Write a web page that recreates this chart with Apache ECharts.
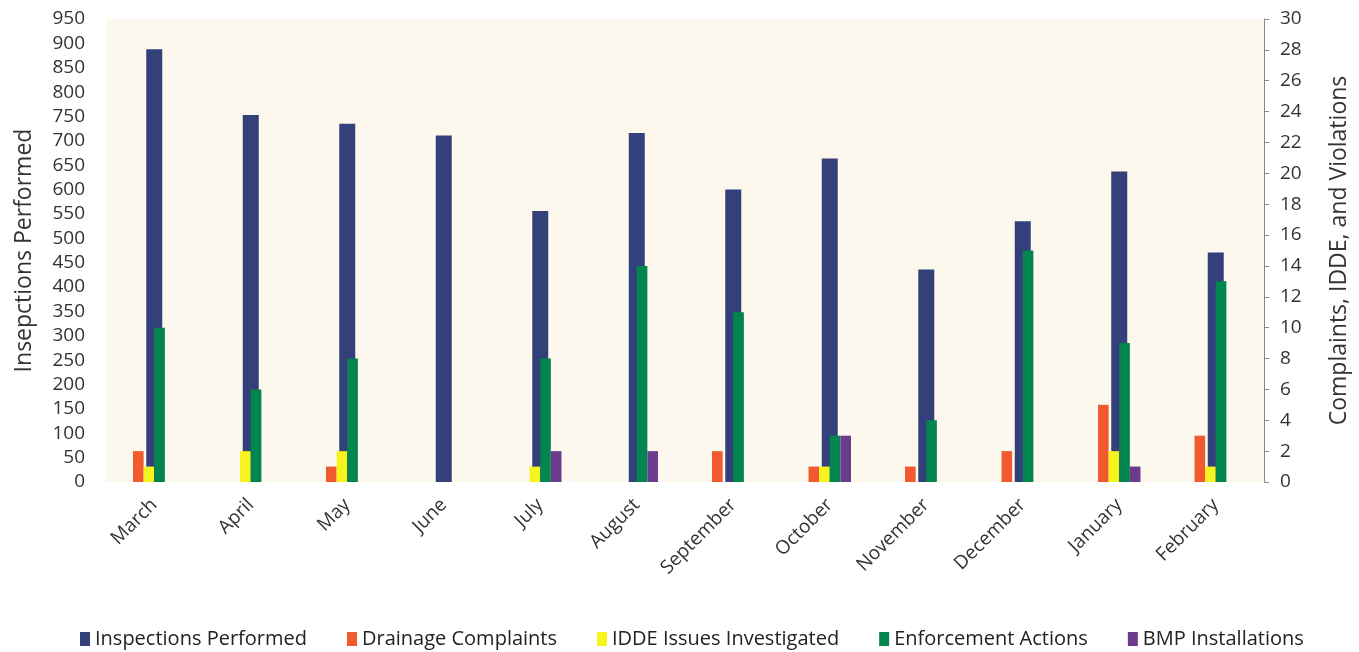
<!DOCTYPE html>
<html>
<head>
<meta charset="utf-8">
<script src="https://cdn.jsdelivr.net/npm/echarts@6/dist/echarts.min.js"></script>
<style>
html,body{margin:0;padding:0;background:#fff;}
#chart{width:1359px;height:652px;}
</style>
</head>
<body>
<div id="chart"></div>
<script>
const months = ['March','April','May','June','July','August','September','October','November','December','January','February'];
const inspections = [888, 753, 735, 711, 556, 716, 600, 664, 436, 535, 637, 471];
const drainage = [2, 0, 1, 0, 0, 0, 2, 1, 1, 2, 5, 3];
const idde = [1, 2, 2, 0, 1, 0, 0, 1, 0, 0, 2, 1];
const enforcement = [10, 6, 8, 0, 8, 14, 11, 3, 4, 15, 9, 13];
const bmp = [0, 0, 0, 0, 2, 2, 0, 3, 0, 0, 1, 0];
const leftTicks = {min: 0, max: 950, interval: 50};
const rightTicks = {min: 0, max: 30, interval: 2};

const font = '"Open Sans", "Noto Sans", sans-serif';
const chart = echarts.init(document.getElementById('chart'), null, {renderer: 'canvas'});
chart.setOption({
  animation: false,
  backgroundColor: '#ffffff',
  grid: {left: 106, right: 92, top: 19, bottom: 170, show: true, backgroundColor: '#fdf8ee', borderWidth: 0},
  legend: {
    top: 624, left: 75, itemWidth: 10, itemHeight: 14, itemGap: 40,
    icon: 'rect',
    textStyle: {fontFamily: font, fontSize: 20, color: '#222'},
    data: ['Inspections Performed','Drainage Complaints','IDDE Issues Investigated','Enforcement Actions','BMP Installations']
  },
  xAxis: [
    {type: 'category', data: months, axisLine: {show: false}, axisTick: {show: false},
     axisLabel: {rotate: 45, fontFamily: font, fontSize: 19, color: '#333', margin: 20, interval: 0}},
    {type: 'category', data: months, show: false, position: 'bottom'}
  ],
  yAxis: [
    {type: 'value', min: leftTicks.min, max: leftTicks.max, interval: leftTicks.interval,
     name: 'Insepctions Performed', nameLocation: 'middle', nameGap: 70, nameRotate: 90,
     nameTextStyle: {fontFamily: font, fontSize: 23, color: '#333'},
     axisLine: {show: false}, axisTick: {show: false}, splitLine: {show: false},
     axisLabel: {fontFamily: font, fontSize: 19, color: '#333', margin: 21}},
    {type: 'value', min: rightTicks.min, max: rightTicks.max, interval: rightTicks.interval, position: 'right',
     name: 'Complaints, IDDE, and Violations', nameLocation: 'middle', nameGap: 64, nameRotate: 90,
     nameTextStyle: {fontFamily: font, fontSize: 23, color: '#333'},
     axisLine: {show: true, lineStyle: {color: '#8a8a8a', width: 1}},
     axisTick: {show: true, length: 5, lineStyle: {color: '#8a8a8a'}},
     splitLine: {show: false},
     axisLabel: {fontFamily: font, fontSize: 19, color: '#333', margin: 16}}
  ],
  series: [
    {name: 'Inspections Performed', type: 'bar', xAxisIndex: 0, yAxisIndex: 0, data: inspections,
     barWidth: 16, itemStyle: {color: '#33407a'}, z: 2},
    {name: 'Drainage Complaints', type: 'bar', xAxisIndex: 1, yAxisIndex: 1, data: drainage,
     barGap: '0%', barCategoryGap: '56%', itemStyle: {color: '#f15a2e'}, z: 3},
    {name: 'IDDE Issues Investigated', type: 'bar', xAxisIndex: 1, yAxisIndex: 1, data: idde,
     barGap: '0%', barCategoryGap: '56%', itemStyle: {color: '#f7f31c'}, z: 3},
    {name: 'Enforcement Actions', type: 'bar', xAxisIndex: 1, yAxisIndex: 1, data: enforcement,
     barGap: '0%', barCategoryGap: '56%', itemStyle: {color: '#03854f'}, z: 3},
    {name: 'BMP Installations', type: 'bar', xAxisIndex: 1, yAxisIndex: 1, data: bmp,
     barGap: '0%', barCategoryGap: '56%', itemStyle: {color: '#6b3b8c'}, z: 3}
  ]
});
</script>
</body>
</html>
